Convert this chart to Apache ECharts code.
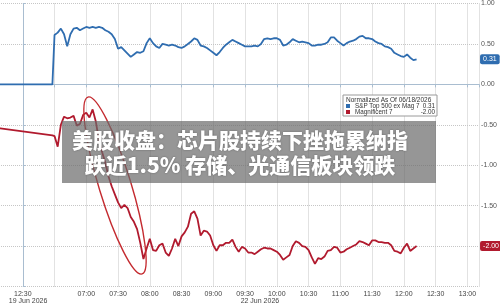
<!DOCTYPE html>
<html>
<head>
<meta charset="utf-8">
<script src="https://cdn.jsdelivr.net/npm/echarts@6/dist/echarts.min.js"></script>
<style>
  html, body { margin: 0; padding: 0; background: #fff; overflow: hidden; }
  /* the plot runs off the left edge, so the canvas starts 12px left of the window */
  #chart { position: absolute; left: -12px; top: 0; width: 512px; height: 305px; }
</style>
</head>
<body>
<div id="chart"></div>
<script>
'use strict'

/* data */
// last session, 19 Jun
var prevTimes = ['12:00', '12:58'];
var prevSpx = [0, 0];
var prevMag = [-0.53, -0.63];

// 22 Jun, every 3 minutes
var times = [
	'06:30', '06:33', '06:36', '06:39', '06:42', '06:45', '06:48', '06:51', '06:54', '06:57',
	'07:00', '07:03', '07:06', '07:09', '07:12', '07:15', '07:18', '07:21', '07:24', '07:27',
	'07:30', '07:33', '07:36', '07:39', '07:42', '07:45', '07:48', '07:51', '07:54', '07:57',
	'08:00', '08:03', '08:06', '08:09', '08:12', '08:15', '08:18', '08:21', '08:24', '08:27',
	'08:30', '08:33', '08:36', '08:39', '08:42', '08:45', '08:48', '08:51', '08:54', '08:57',
	'09:00', '09:03', '09:06', '09:09', '09:12', '09:15', '09:18', '09:21', '09:24', '09:27',
	'09:30', '09:33', '09:36', '09:39', '09:42', '09:45', '09:48', '09:51', '09:54', '09:57',
	'10:00', '10:03', '10:06', '10:09', '10:12', '10:15', '10:18', '10:21', '10:24', '10:27',
	'10:30', '10:33', '10:36', '10:39', '10:42', '10:45', '10:48', '10:51', '10:54', '10:57',
	'11:00', '11:03', '11:06', '11:09', '11:12', '11:15', '11:18', '11:21', '11:24', '11:27',
	'11:30', '11:33', '11:36', '11:39', '11:42', '11:45', '11:48', '11:51', '11:54', '11:57',
	'12:00', '12:03', '12:06', '12:09', '12:12'
];

var spxExMag = [
	0.61, 0.64, 0.69, 0.62, 0.47, 0.62, 0.69, 0.70, 0.67, 0.69,
	0.71, 0.70, 0.71, 0.70, 0.71, 0.70, 0.67, 0.65, 0.62, 0.56,
	0.44, 0.46, 0.42, 0.38, 0.34, 0.37, 0.40, 0.39, 0.41, 0.51,
	0.57, 0.51, 0.47, 0.45, 0.50, 0.49, 0.48, 0.49, 0.48, 0.46,
	0.45, 0.47, 0.50, 0.53, 0.57, 0.55, 0.48, 0.47, 0.45, 0.42,
	0.39, 0.36, 0.40, 0.45, 0.49, 0.52, 0.55, 0.53, 0.51, 0.49,
	0.47, 0.47, 0.47, 0.48, 0.47, 0.50, 0.56, 0.57, 0.56, 0.57,
	0.57, 0.55, 0.48, 0.49, 0.52, 0.56, 0.54, 0.52, 0.53, 0.52,
	0.51, 0.48, 0.48, 0.49, 0.49, 0.50, 0.52, 0.58, 0.58, 0.54,
	0.51, 0.48, 0.51, 0.53, 0.54, 0.56, 0.59, 0.60, 0.57, 0.57,
	0.56, 0.53, 0.51, 0.50, 0.47, 0.46, 0.44, 0.39, 0.37, 0.35,
	0.34, 0.37, 0.33, 0.30, 0.31
];

var mag7 = [
	-0.64, -0.77, -0.50, -0.40, -0.42, -0.41, -0.39, -0.51, -0.49, -0.38,
	-0.35, -0.41, -0.31, -0.46, -0.69, -0.84, -0.97, -1.14, -1.26, -1.36,
	-1.46, -1.53, -1.49, -1.53, -1.64, -1.70, -1.79, -1.96, -2.16, -2.03,
	-1.91, -2.05, -2.06, -1.99, -1.97, -2.08, -2.12, -2.03, -1.91, -2.00,
	-1.88, -1.83, -1.76, -1.60, -1.57, -1.66, -1.87, -1.81, -1.82, -1.87,
	-1.99, -2.06, -1.99, -1.99, -1.96, -1.96, -1.92, -2.01, -2.07, -2.01,
	-2.03, -2.08, -2.08, -2.10, -2.07, -2.04, -2.02, -2.03, -2.03, -2.05,
	-2.07, -2.11, -2.17, -2.14, -2.11, -2.00, -1.94, -1.96, -2.00, -2.01,
	-2.05, -2.14, -2.22, -2.15, -2.16, -2.13, -2.06, -2.05, -2.01, -2.02,
	-2.08, -2.07, -2.04, -2.02, -2.00, -1.98, -1.94, -1.95, -1.97, -1.99,
	-1.93, -1.93, -1.95, -1.95, -1.96, -1.96, -1.99, -2.06, -2.07, -2.09,
	-2.02, -1.97, -2.06, -2.03, -2.00
];

var seriesNames = ['S&P Top 500 ex Mag 7', 'Magnificent 7'];
var legendTitle = 'Normalized As Of 06/18/2026';

// ticks every 30 min on the session axis, from -30
var xTickLabels = ['', '12:30', '', '07:00', '07:30', '08:00', '08:30', '09:00', '09:30',
	'10:00', '10:30', '11:00', '11:30', '12:00', '12:30', '13:00'];
// day labels under the times, placed on the session axis
var dayLabels = ['19 Jun 2026', '22 Jun 2026'];
var dayLabelPos = [5, 224];

var headline = ['美股收盘：芯片股持续下挫拖累纳指', '跌近1.5% 存储、光通信板块领跌'];

/* session axis: 19 Jun 12:30 -> 0, 22 Jun 06:30 -> 30 (weekend cut out) */
function toMinute(s) {
	var p = s.split(':');
	return (+p[0]) * 60 + (+p[1]);
}
function prevPos(s) { return toMinute(s) - toMinute('12:30'); }
function dayPos(s) { return 30 + toMinute(s) - toMinute('06:30'); }

function build(prevVals, vals) {
	var out = [];
	prevTimes.forEach(function (t, i) { out.push([prevPos(t), prevVals[i]]); });
	times.forEach(function (t, i) { out.push([dayPos(t), vals[i]]); });
	return out;
}

var blue = '#2f6db0';
var red = '#b11a2e';
var axisColor = '#a9bdd0';
var gridColor = '#c6c6c6';
var labelFont = '"Liberation Sans Narrow", "Liberation Sans", sans-serif';
var dx = 12; // canvas offset, see css

// value tag on the right axis
function tag(color, value) {
	return {
		silent: true,
		symbol: ['none', 'none'],
		animation: false,
		lineStyle: { width: 0, color: 'rgba(0,0,0,0)' },
		label: {
			show: true,
			position: 'end',
			distance: 1,
			formatter: function (p) { return p.value.toFixed(2); },
			color: '#fff',
			backgroundColor: color,
			padding: [2, 3, 1, 3],
			borderRadius: 2,
			fontSize: 7,
			fontFamily: labelFont
		},
		data: [{ yAxis: value }]
	};
}

var chart = echarts.init(document.getElementById('chart'));
var option = {
	animation: false,
	backgroundColor: '#fff',
	grid: { left: 0, right: 19, top: 0, bottom: 16 },
	title: {
		text: legendTitle,
		left: 346 + dx,
		top: 97,
		padding: 0,
		textStyle: { fontSize: 6.5, fontWeight: 'normal', color: '#333', fontFamily: labelFont }
	},
	legend: {
		left: 343 + dx,
		top: 95,
		orient: 'vertical',
		padding: [8, 2, 1, 3],
		itemGap: 0,
		itemWidth: 4,
		itemHeight: 4,
		icon: 'rect',
		backgroundColor: '#fff',
		borderColor: '#9a9a9a',
		borderWidth: 1,
		data: seriesNames,
		formatter: function (name) {
			var v = name === seriesNames[0] ? spxExMag[spxExMag.length - 1] : mag7[mag7.length - 1];
			return '{n|' + name + '}{v|' + v.toFixed(2) + '}';
		},
		textStyle: {
			fontSize: 6.3,
			color: '#333',
			fontFamily: labelFont,
			rich: {
				n: { width: 66, fontSize: 6.3, lineHeight: 8, fontFamily: labelFont },
				v: { width: 14, align: 'right', fontSize: 6.3, lineHeight: 8, fontFamily: labelFont }
			}
		}
	},
	xAxis: [
		{
			type: 'value',
			min: -30,
			max: 431,
			interval: 30,
			axisLine: { show: true, lineStyle: { color: axisColor } },
			axisTick: { show: true, length: 3, lineStyle: { color: axisColor } },
			splitLine: { show: true, lineStyle: { color: gridColor, type: 'dotted' } },
			axisLabel: {
				margin: 4,
				fontSize: 7,
				color: '#444',
				fontFamily: labelFont,
				formatter: function (v) {
					if ((v + 30) % 30 !== 0) return '';
					return xTickLabels[(v + 30) / 30] || '';
				}
			}
		},
		{
			// second row: the dates
			type: 'value',
			position: 'bottom',
			offset: 7.5,
			min: -30,
			max: 431,
			axisLine: { show: false },
			axisTick: { show: false },
			splitLine: { show: false },
			axisLabel: {
				margin: 4,
				fontSize: 7,
				color: '#444',
				fontFamily: labelFont,
				customValues: dayLabelPos,
				formatter: function (v) {
					var i = dayLabelPos.indexOf(v);
					return i >= 0 ? dayLabels[i] : '';
				}
			}
		}
	],
	yAxis: {
		type: 'value',
		position: 'right',
		min: -2.5,
		max: 1.0,
		interval: 0.5,
		axisLine: { show: true, lineStyle: { color: axisColor } },
		axisTick: { show: true, length: 3, lineStyle: { color: axisColor } },
		splitLine: { show: true, lineStyle: { color: gridColor, type: 'dotted' } },
		axisLabel: {
			margin: 2,
			fontSize: 7,
			color: '#555',
			fontFamily: labelFont,
			formatter: function (v) {
				if (v <= -2) return '';
				return v.toFixed(2);
			}
		}
	},
	series: [
		{
			name: seriesNames[0],
			type: 'line',
			clip: false,
			showSymbol: false,
			data: build(prevSpx, spxExMag),
			lineStyle: { width: 1.8, color: blue },
			itemStyle: { color: blue },
			markLine: tag(blue, spxExMag[spxExMag.length - 1])
		},
		{
			name: seriesNames[1],
			type: 'line',
			clip: false,
			showSymbol: false,
			data: build(prevMag, mag7),
			lineStyle: { width: 1.8, color: red },
			itemStyle: { color: red },
			markLine: tag(red, mag7[mag7.length - 1])
		}
	],
	graphic: [
		{
			// hand-drawn circle round the morning drop
			type: 'ellipse',
			x: 115 + dx,
			y: 185.5,
			rotation: 0.297,
			shape: { cx: 0, cy: 0, rx: 16, ry: 92.5 },
			style: { fill: 'none', stroke: '#c42a2f', lineWidth: 1.4 },
			z: 50
		},
		{
			type: 'rect',
			shape: { x: 62 + dx, y: 121, width: 374, height: 62 },
			style: { fill: 'rgba(105,105,105,0.7)' },
			z: 60
		},
		{
			type: 'text',
			x: 240 + dx,
			y: 152.5,
			style: {
				text: headline.join('\n'),
				fill: '#fff',
				fontSize: 21,
				fontWeight: 900,
				fontFamily: '"Noto Sans CJK SC"',
				align: 'center',
				verticalAlign: 'middle',
				lineHeight: 25,
				textShadowColor: 'rgba(0,0,0,0.35)',
				textShadowBlur: 2
			},
			z: 61
		}
	]
};
chart.setOption(option);
</script>
</body>
</html>
